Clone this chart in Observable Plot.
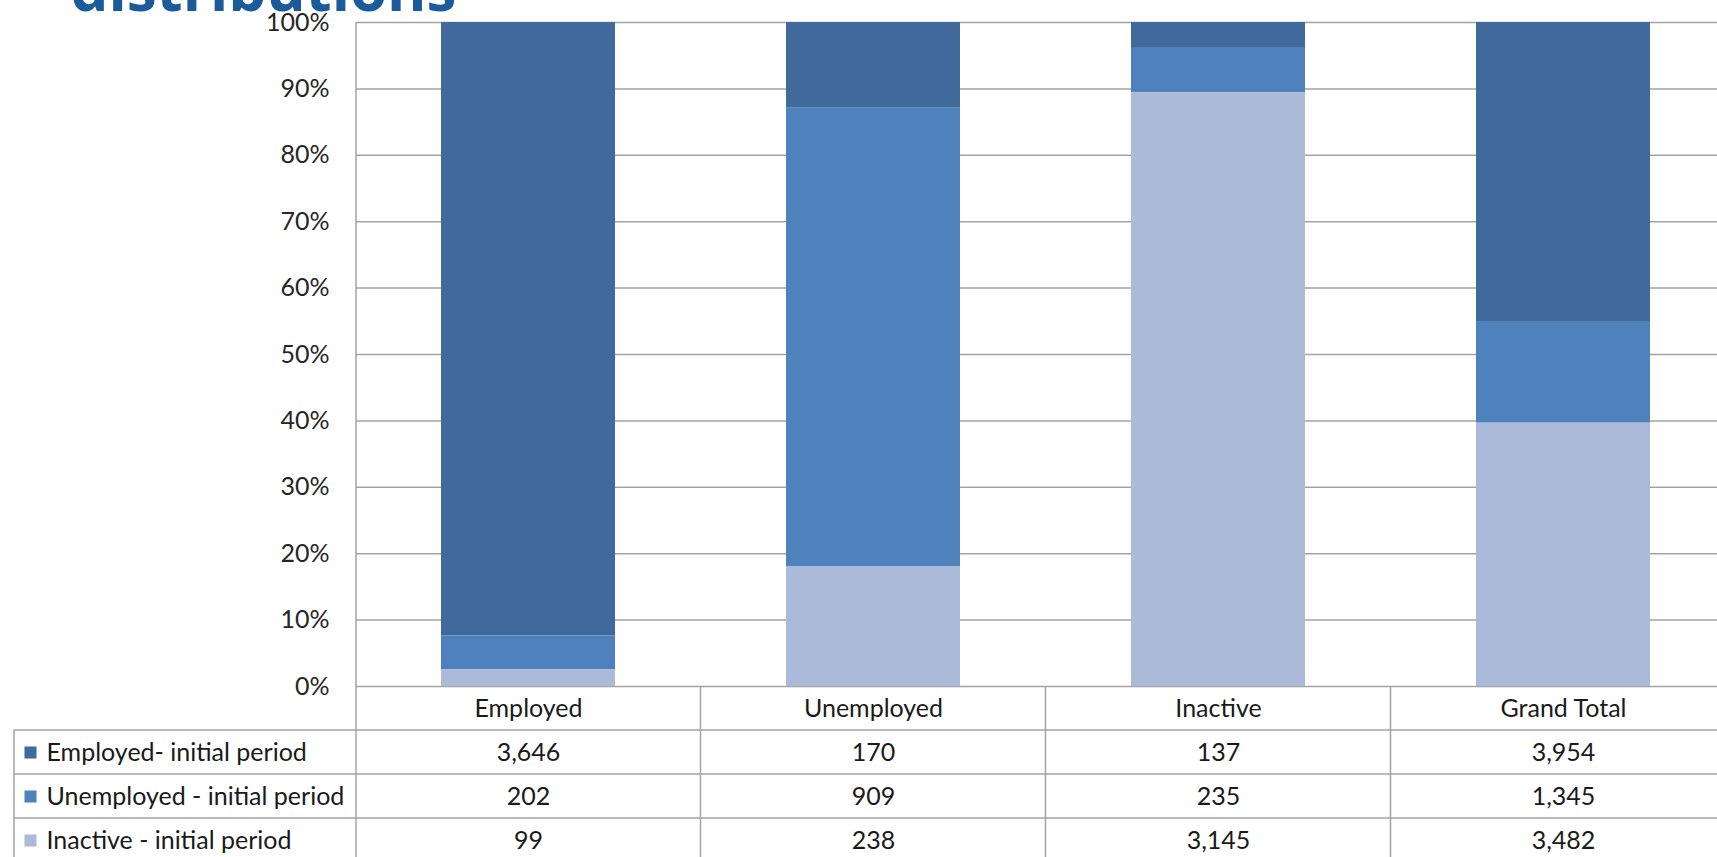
<!DOCTYPE html>
<html>
<head>
<meta charset="utf-8">
<script src="https://cdn.jsdelivr.net/npm/d3@7"></script>
<script src="https://cdn.jsdelivr.net/npm/@observablehq/plot@0.6"></script>
<style>
  html, body { margin: 0; padding: 0; background: #fff; overflow: hidden; }
</style>
</head>
<body>
<div id="chart"></div>
<script>
// ---- data ----
const titleText = "distributions";
const categories = ["Employed", "Unemployed", "Inactive", "Grand Total"];
const seriesNames = ["Employed- initial period", "Unemployed - initial period", "Inactive - initial period"];
const employedInitial = [3646, 170, 137, 3954];
const unemployedInitial = [202, 909, 235, 1345];
const inactiveInitial = [99, 238, 3145, 3482];
const yTicks = [0, 0.1, 0.2, 0.3, 0.4, 0.5, 0.6, 0.7, 0.8, 0.9, 1];

// ---- styles / layout ----
const seriesColors = ["#416a9c", "#4f81bd", "#abbad8"];
const stackOrder = [seriesNames[2], seriesNames[1], seriesNames[0]];
const W = 1717, H = 870;
const frameLeft = 356, frameTop = 22, frameBottom = 686;
const xRange = [355, 1735];
const padInner = 0.496;
const rowH = 44;
const tableLeft = 14;
const font = "Lato, 'Open Sans', sans-serif";
const gridColor = "#a3a3a3";

const seriesValues = [employedInitial, unemployedInitial, inactiveInitial];
const data = seriesNames.flatMap((s, i) =>
  categories.map((c, j) => ({category: c, series: s, value: seriesValues[i][j]}))
);
const fmt = d3.format(",");

const chart = Plot.plot({
  width: W,
  height: H,
  marginLeft: frameLeft,
  marginRight: 0,
  marginTop: frameTop,
  marginBottom: H - frameBottom,
  style: {fontFamily: font, fontSize: "25px", color: "#262626", background: "#fff"},
  x: {domain: categories, range: xRange, paddingInner: padInner, paddingOuter: padInner / 2, axis: null},
  y: {domain: [0, 1], axis: null},
  color: {domain: seriesNames, range: seriesColors},
  marks: [
    Plot.ruleY(yTicks, {stroke: gridColor, strokeWidth: 1.5}),
    Plot.barY(data, Plot.stackY({
      offset: "normalize", order: stackOrder,
      x: "category", y: "value", z: "series", fill: "series"
    })),
    Plot.axisY({
      ticks: yTicks, tickFormat: d3.format(".0%"), tickSize: 0, tickPadding: 27,
      fontSize: 25, label: null, color: "#262626"
    }),
    // header row (categories)
    Plot.text(categories, {
      x: d => d, text: d => d, frameAnchor: "bottom", dy: rowH / 2,
      lineAnchor: "middle", fontSize: 25, fill: "#1a1a1a"
    }),
    // value rows
    ...seriesNames.map((s, i) => Plot.text(data.filter(d => d.series === s), {
      x: "category", text: d => fmt(d.value), frameAnchor: "bottom",
      dy: rowH * (i + 1.5), lineAnchor: "middle", fontSize: 25, fill: "#1a1a1a"
    })),
    // legend labels
    ...seriesNames.map((s, i) => Plot.text([s], {
      text: d => d, frameAnchor: "bottom-left", dx: 46 - frameLeft,
      dy: rowH * (i + 1.5), textAnchor: "start", lineAnchor: "middle",
      fontSize: 25, fill: "#1a1a1a"
    })),
    // legend swatches
    ...seriesNames.map((s, i) => Plot.dot([s], {
      frameAnchor: "bottom-left", dx: 30 - frameLeft, dy: rowH * (i + 1.5),
      symbol: "square", r: 6.8, fill: seriesColors[i], stroke: "none"
    })),
    // title (cut off at the top as in the source slide)
    Plot.text([titleText], {
      text: d => d, frameAnchor: "top-left", dx: 70 - frameLeft, dy: 10 - frameTop,
      textAnchor: "start", lineAnchor: "bottom", fontSize: 60, fontWeight: 700,
      fontFamily: "'Open Sans', sans-serif", fill: "#1b5a9b"
    })
  ]
});

document.getElementById("chart").appendChild(chart);

// ---- table borders (drawn from the x band scale) ----
const xs = chart.scale("x");
const step = xs.step;
const bounds = categories.map(c => xs.apply(c) - (step - xs.bandwidth) / 2);
const svg = d3.select(chart);
const g = svg.insert("g", ":first-child").attr("stroke", gridColor).attr("stroke-width", 1.5);
// vertical axis line
g.append("line").attr("x1", frameLeft).attr("x2", frameLeft).attr("y1", frameTop).attr("y2", H);
// column dividers
bounds.slice(1).forEach(b => {
  g.append("line").attr("x1", b).attr("x2", b).attr("y1", frameBottom).attr("y2", H);
});
// left border
g.append("line").attr("x1", tableLeft).attr("x2", tableLeft).attr("y1", frameBottom + rowH).attr("y2", H);
// row lines
[1, 2, 3, 4].forEach(k => {
  const y = frameBottom + rowH * k;
  g.append("line").attr("x1", tableLeft).attr("x2", W).attr("y1", y).attr("y2", y);
});
</script>
</body>
</html>
